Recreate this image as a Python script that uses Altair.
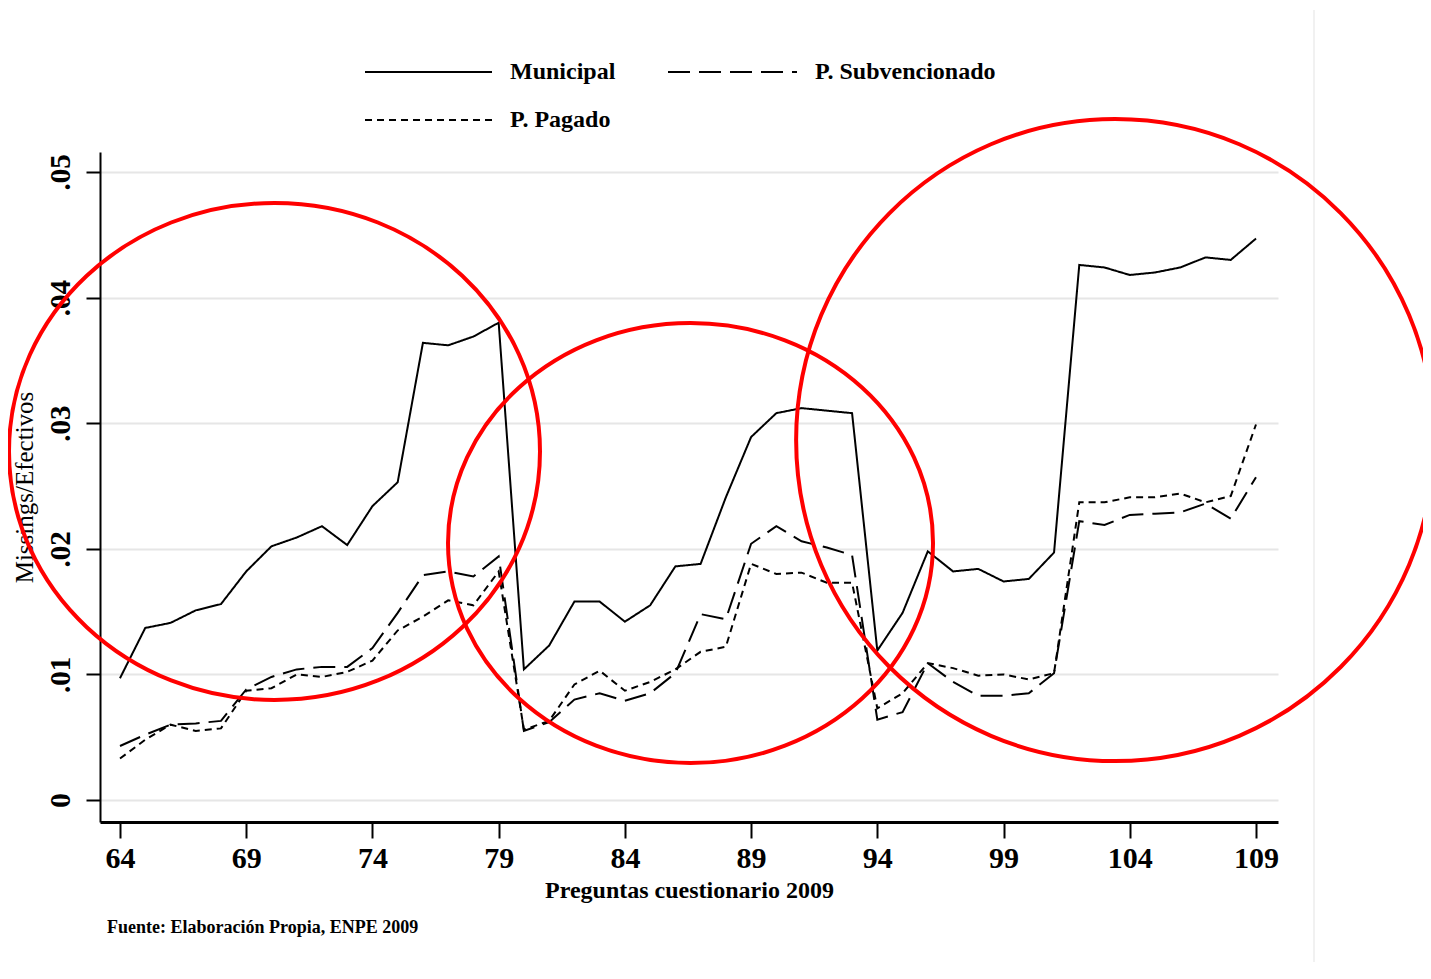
import altair as alt
import pandas as pd

preguntas = list(range(64, 110))

municipal = [0.0097, 0.0137, 0.0141, 0.0151, 0.0156, 0.0182, 0.0202, 0.0209, 0.0218, 0.0203,
             0.0234, 0.0253, 0.0364, 0.0362, 0.0369, 0.0380, 0.0104, 0.0123, 0.0158, 0.0158,
             0.0142, 0.0155, 0.0186, 0.0188, 0.0241, 0.0289, 0.0308, 0.0312, 0.0310, 0.0308,
             0.0119, 0.0149, 0.0198, 0.0182, 0.0184, 0.0174, 0.0176, 0.0197, 0.0426, 0.0424,
             0.0418, 0.0420, 0.0424, 0.0432, 0.0430, 0.0447]

subvencionado = [0.0043, 0.0052, 0.0060, 0.0061, 0.0063, 0.0088, 0.0098, 0.0104, 0.0106, 0.0106,
                 0.0121, 0.0149, 0.0179, 0.0182, 0.0178, 0.0194, 0.0055, 0.0062, 0.0080, 0.0085,
                 0.0079, 0.0085, 0.0101, 0.0148, 0.0144, 0.0204, 0.0218, 0.0206, 0.0201, 0.0195,
                 0.0064, 0.0070, 0.0109, 0.0094, 0.0083, 0.0083, 0.0085, 0.0101, 0.0222, 0.0219,
                 0.0227, 0.0228, 0.0229, 0.0236, 0.0224, 0.0257]

pagado = [0.0033, 0.0048, 0.0060, 0.0055, 0.0057, 0.0087, 0.0089, 0.0100, 0.0098, 0.0102,
          0.0111, 0.0135, 0.0146, 0.0159, 0.0155, 0.0182, 0.0056, 0.0063, 0.0092, 0.0103,
          0.0087, 0.0094, 0.0104, 0.0118, 0.0122, 0.0188, 0.0180, 0.0181, 0.0173, 0.0173,
          0.0073, 0.0085, 0.0109, 0.0105, 0.0099, 0.0100, 0.0096, 0.0101, 0.0237, 0.0237,
          0.0241, 0.0241, 0.0244, 0.0237, 0.0242, 0.0299]

series_names = ["Municipal", "P. Subvencionado", "P. Pagado"]
x_ticks = [64, 69, 74, 79, 84, 89, 94, 99, 104, 109]
y_ticks = [0, 0.01, 0.02, 0.03, 0.04, 0.05]

# annotation circles (centre in data units)
circle_x = [70.12, 86.60, 103.42]
circle_y = [0.02775, 0.02046, 0.02866]

rows = []
for name, vals in zip(series_names, [municipal, subvencionado, pagado]):
    for q, v in zip(preguntas, vals):
        rows.append({"pregunta": q, "valor": v, "serie": name})
df = pd.DataFrame(rows)

FONT = "Liberation Serif"
DASHES = [[1, 0], [22, 9], [7, 5]]

xscale = alt.Scale(domain=[63.2077, 109.872], nice=False, zero=False)
yscale = alt.Scale(domain=[-0.00175, 0.051592], nice=False, zero=False)

lines = alt.Chart(df).mark_line(strokeWidth=2, color="black").encode(
    x=alt.X("pregunta:Q", scale=xscale,
            axis=alt.Axis(values=x_ticks, title="Preguntas cuestionario 2009", grid=False,
                          tickSize=16, tickWidth=2, tickColor="black",
                          domainColor="black", domainWidth=3,
                          labelFont=FONT, labelFontSize=30, labelFontWeight="bold",
                          labelColor="black", labelPadding=5, labelFlush=False,
                          titleFont=FONT, titleFontSize=24, titleFontWeight="bold",
                          titleColor="black", titleX=589, titleY=68,
                          titleBaseline="middle", titleAlign="center")),
    y=alt.Y("valor:Q", scale=yscale,
            axis=alt.Axis(values=y_ticks, title="Missings/Efectivos",
                          labelExpr="datum.value == 0 ? '0' : replace(format(datum.value, '.2f'), '0.', '.')",
                          grid=True, gridColor="#e6e6e6", gridWidth=2,
                          tickSize=14, tickWidth=2, tickColor="black",
                          domainColor="black", domainWidth=2,
                          labelFont=FONT, labelFontSize=29, labelFontWeight="bold",
                          labelColor="black", labelAngle=270, labelAlign="center",
                          labelBaseline="alphabetic", labelPadding=17,
                          titleFont=FONT, titleFontSize=25, titleFontWeight="normal",
                          titleColor="black", titleAngle=270, titleX=-76, titleY=335,
                          titleAlign="center", titleBaseline="middle")),
    strokeDash=alt.StrokeDash("serie:N",
                              scale=alt.Scale(domain=series_names, range=DASHES),
                              legend=None),
    order="pregunta:Q",
)

# manual legend (decoration): two columns, two rows
legend_slots = [(265, 392, -80), (568, 697, -80), (265, 392, -32)]
legend_layers = []
one = pd.DataFrame({"a": [0]})
for name, dash, (x0, x1, yy) in zip(series_names, DASHES, legend_slots):
    legend_layers.append(
        alt.Chart(one).mark_rule(color="black", strokeWidth=2, strokeDash=dash).encode(
            x=alt.value(x0), x2=alt.value(x1), y=alt.value(yy)
        )
    )
    legend_layers.append(
        alt.Chart(pd.DataFrame({"t": [name]})).mark_text(
            font=FONT, fontSize=24, fontWeight="bold", align="left",
            baseline="middle", color="black"
        ).encode(text="t:N", x=alt.value(x1 + 18), y=alt.value(yy))
    )

circ_df = pd.DataFrame({"cx": circle_x, "cy": circle_y})
radii = [(265.5, 248.5), (242.5, 220.0), (319.0, 321.0)]
circle_layers = []
for i, (rx, ry) in enumerate(radii):
    k = ry / rx
    path = f"M -1 0 A 1 {k:.4f} 0 1 1 1 0 A 1 {k:.4f} 0 1 1 -1 0 Z"
    circle_layers.append(
        alt.Chart(circ_df.iloc[[i]]).mark_point(
            shape=path, filled=False, stroke="#ff0000", strokeWidth=4,
            opacity=1, size=(2 * rx) ** 2
        ).encode(x=alt.X("cx:Q", scale=xscale), y=alt.Y("cy:Q", scale=yscale))
    )

edge = alt.Chart(one).mark_rule(color="#ececec", strokeWidth=1.5).encode(
    x=alt.value(1214), y=alt.value(-142), y2=alt.value(830)
)

footer = alt.Chart(pd.DataFrame({"t": ["Fuente: Elaboración Propia, ENPE 2009"]})).mark_text(
    font=FONT, fontSize=18, fontWeight="bold", align="left", baseline="middle", color="black"
).encode(text="t:N", x=alt.value(7), y=alt.value(776))

chart = alt.layer(edge, lines, *legend_layers, *circle_layers, footer).properties(
    width=1178, height=670,
    autosize=alt.AutoSizeParams(type="none"),
    padding={"left": 92, "top": 144, "right": 145, "bottom": 140},
).configure(background="white").configure_view(stroke=None)

chart.save("out.html", embed_options={"renderer": "svg", "actions": False})
